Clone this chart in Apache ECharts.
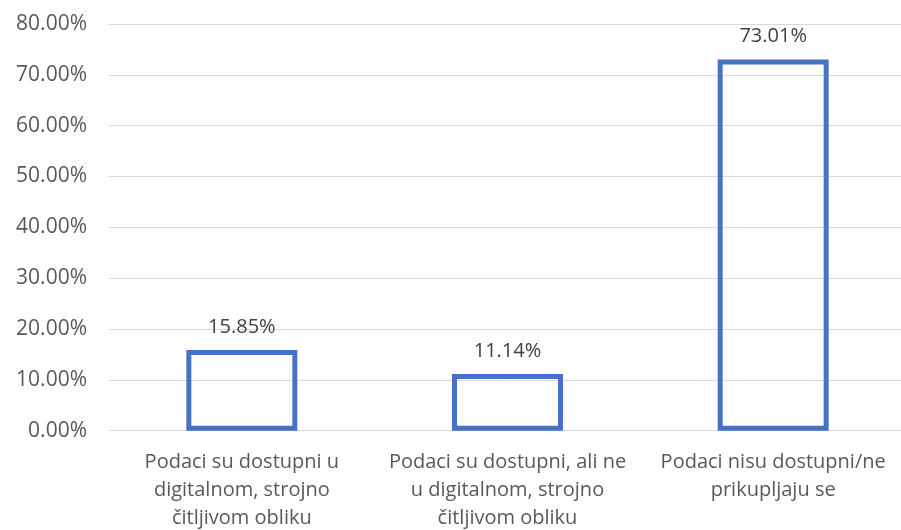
<!DOCTYPE html>
<html>
<head>
<meta charset="utf-8">
<script src="https://cdn.jsdelivr.net/npm/echarts@6/dist/echarts.min.js"></script>
<style>
html,body{margin:0;padding:0;background:#fff;}
#chart{width:901px;height:530px;}
</style>
</head>
<body>
<div id="chart"></div>
<script>
var categories = [
  "Podaci su dostupni u\ndigitalnom, strojno\nčitljivom obliku",
  "Podaci su dostupni, ali ne\nu digitalnom, strojno\nčitljivom obliku",
  "Podaci nisu dostupni/ne\nprikupljaju se"
];
var values = [15.85, 11.14, 73.01];
var yTicks = [0, 10, 20, 30, 40, 50, 60, 70, 80];

var FONT = "'Open Sans', sans-serif";
var chart = echarts.init(document.getElementById('chart'), null, {renderer: 'canvas'});
chart.setOption({
  animation: false,
  backgroundColor: '#ffffff',
  grid: {left: 109, top: 24, width: 797, height: 406.7, containLabel: false, outerBoundsMode: 'none'},
  xAxis: {
    type: 'category',
    data: categories,
    axisLine: {show: false},
    axisTick: {show: false},
    axisLabel: {
      color: '#595959', fontFamily: FONT, fontSize: 20, lineHeight: 28,
      margin: 18, interval: 0, align: 'center'
    }
  },
  yAxis: {
    type: 'value',
    min: yTicks[0], max: yTicks[yTicks.length - 1], interval: 10,
    axisLine: {show: false},
    axisTick: {show: false},
    splitLine: {show: true, lineStyle: {color: '#d9d9d9', width: 1}},
    axisLabel: {
      color: '#595959', fontFamily: FONT, fontSize: 21, margin: 22,
      formatter: function (v) { return v.toFixed(2) + '%'; }
    }
  },
  series: [{
    type: 'bar',
    data: values,
    barWidth: 111,
    itemStyle: {color: 'rgba(255,255,255,0)', borderColor: '#4472C4', borderWidth: 5},
    label: {
      show: true, position: 'top', distance: 13,
      color: '#404040', fontFamily: FONT, fontSize: 20,
      formatter: function (p) { return p.value.toFixed(2) + '%'; }
    }
  }]
});
</script>
</body>
</html>
